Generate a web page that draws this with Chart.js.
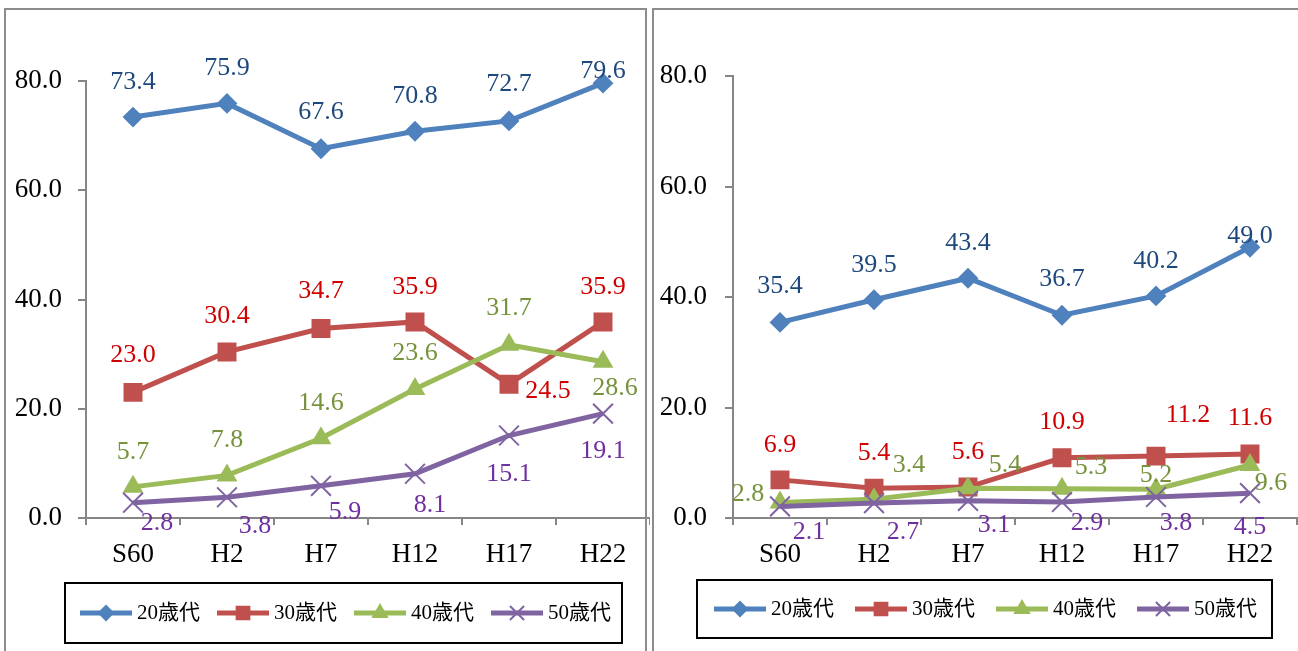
<!DOCTYPE html>
<html>
<head>
<meta charset="utf-8">
<script src="https://cdn.jsdelivr.net/npm/chart.js@4/dist/chart.umd.min.js"></script>
<style>
body { margin: 0; background: #fff; overflow: hidden; }
#page { position: relative; width: 1298px; height: 651px; overflow: hidden; }
canvas { position: absolute; top: 0; }
#c1 { left: 0; }
#c2 { left: 650px; }
.box { position: absolute; border: 2px solid #8c8c8c; box-sizing: border-box; pointer-events: none; }
</style>
</head>
<body>
<div id="page">
  <canvas id="c1" width="650" height="651"></canvas>
  <canvas id="c2" width="648" height="651"></canvas>
  <div class="box" style="left:4px;top:8px;width:643px;height:700px"></div>
  <div class="box" style="left:652px;top:8px;width:660px;height:700px"></div>
</div>
<script>
const categories = ['S60', 'H2', 'H7', 'H12', 'H17', 'H22'];
const seriesNames = ['20歳代', '30歳代', '40歳代', '50歳代'];
const yTickValues = [0, 20, 40, 60, 80];

// left chart
const left20 = [73.4, 75.9, 67.6, 70.8, 72.7, 79.6];
const left30 = [23.0, 30.4, 34.7, 35.9, 24.5, 35.9];
const left40 = [5.7, 7.8, 14.6, 23.6, 31.7, 28.6];
const left50 = [2.8, 3.8, 5.9, 8.1, 15.1, 19.1];

// right chart
const right20 = [35.4, 39.5, 43.4, 36.7, 40.2, 49.0];
const right30 = [6.9, 5.4, 5.6, 10.9, 11.2, 11.6];
const right40 = [2.8, 3.4, 5.4, 5.3, 5.2, 9.6];
const right50 = [2.1, 2.7, 3.1, 2.9, 3.8, 4.5];

const lineColors = ['#4f81bd', '#c0504d', '#9bbb59', '#8064a2'];
const labelColors = ['#1f497d', '#d00000', '#76923c', '#7030a0'];
const pointStyles = ['rectRot', 'rect', 'triangle', 'crossRot'];
const pointSizes = [9, 12, 10, 14];
const legendSizes = [7, 9, 8, 10];

// where each value label sits relative to its point [dx, dy]
const leftLabelPos = [
    [[0, -35], [0, -35], [0, -37], [0, -35], [0, -37], [0, -12]],
    [[0, -37], [0, -36], [0, -37], [0, -35], [39, 7], [0, -35]],
    [[0, -35], [0, -35], [0, -35], [0, -36], [0, -37], [12, 26]],
    [[24, 20], [28, 29], [24, 26], [15, 31], [0, 39], [0, 38]]
];
const rightLabelPos = [
    [[0, -36], [0, -35], [0, -35], [0, -36], [0, -35], [0, -11]],
    [[0, -35], [0, -35], [0, -35], [0, -36], [32, -41], [0, -36]],
    [[-32, -8], [35, -34], [37, -23], [29, -22], [0, -14], [21, 18]],
    [[29, 26], [29, 29], [26, 24], [25, 21], [20, 26], [0, 34]]
];

const serif = '"Liberation Serif", "DejaVu Serif", serif';

const valueLabels = {
    id: 'valueLabels',
    afterDatasetsDraw(chart, args, opts) {
        const ctx = chart.ctx;
        ctx.save();
        ctx.font = '26px ' + serif;
        ctx.textAlign = 'center';
        ctx.textBaseline = 'middle';
        chart.data.datasets.forEach((ds, i) => {
            chart.getDatasetMeta(i).data.forEach((pt, j) => {
                const off = opts.pos[i][j];
                ctx.fillStyle = labelColors[i];
                ctx.fillText(ds.data[j].toFixed(1), pt.x + off[0], pt.y + off[1]);
            });
        });
        ctx.restore();
    }
};

// Excel style legend: framed box, line + marker + text
const boxLegend = {
    id: 'boxLegend',
    afterDraw(chart, args, o) {
        const ctx = chart.ctx;
        ctx.save();
        ctx.strokeStyle = '#000';
        ctx.lineWidth = 2;
        ctx.strokeRect(o.left, o.top, o.width, o.height);
        const cy = o.top + o.height / 2;
        ctx.font = '21px "Liberation Serif", "Noto Sans CJK JP", serif';
        ctx.textBaseline = 'middle';
        ctx.textAlign = 'left';
        chart.data.datasets.forEach((ds, i) => {
            const x0 = o.x0 + i * o.step;
            ctx.strokeStyle = ds.borderColor;
            ctx.lineWidth = 5;
            ctx.beginPath();
            ctx.moveTo(x0, cy);
            ctx.lineTo(x0 + 52, cy);
            ctx.stroke();
            ctx.fillStyle = ds.borderColor;
            ctx.lineWidth = 2;
            Chart.helpers.drawPoint(ctx, { pointStyle: ds.pointStyle, radius: legendSizes[i], borderWidth: 2, rotation: 0 }, x0 + 26, cy);
            ctx.fillStyle = '#000';
            ctx.fillText(ds.label, x0 + 57, cy);
        });
        ctx.restore();
    }
};

function makeChart(id, seriesValues, cfg) {
    const datasets = seriesValues.map((vals, i) => ({
        label: seriesNames[i],
        data: vals,
        borderColor: lineColors[i],
        backgroundColor: lineColors[i],
        borderWidth: 5,
        pointStyle: pointStyles[i],
        pointRadius: pointSizes[i],
        pointBorderWidth: 2,
        pointBackgroundColor: lineColors[i],
        pointBorderColor: lineColors[i],
        tension: 0,
        clip: false,
        order: 3 - i
    }));
    return new Chart(document.getElementById(id), {
        type: 'line',
        data: { labels: categories, datasets: datasets },
        plugins: [valueLabels, boxLegend],
        options: {
            responsive: false,
            animation: false,
            layout: { autoPadding: false, padding: { left: 0, top: cfg.top, right: cfg.right, bottom: 73 } },
            scales: {
                x: {
                    offset: true,
                    grid: { offset: true, drawOnChartArea: false, tickLength: 7, color: '#868686', lineWidth: 2 },
                    border: { color: '#868686', width: 2 },
                    ticks: { color: '#000', font: { family: serif, size: 27 }, padding: 14, maxRotation: 0, autoSkip: false },
                    afterFit(s) { s.height = 60; }
                },
                y: {
                    min: 0,
                    max: 80,
                    afterBuildTicks(s) { s.ticks = yTickValues.map(v => ({ value: v })); },
                    grid: { drawOnChartArea: false, tickLength: 8, color: '#868686', lineWidth: 2 },
                    border: { color: '#868686', width: 2 },
                    ticks: { color: '#000', font: { family: serif, size: 27 }, padding: cfg.tickPad, callback: v => v.toFixed(1) },
                    afterFit(s) { s.width = cfg.yWidth; }
                }
            },
            plugins: {
                legend: { display: false },
                tooltip: { enabled: false },
                valueLabels: { pos: cfg.labelPos },
                boxLegend: cfg.legend
            }
        }
    });
}

makeChart('c1', [left20, left30, left40, left50], {
    top: 81, right: 0, yWidth: 86, tickPad: 16,
    labelPos: leftLabelPos,
    legend: { left: 65, top: 583, width: 557, height: 60, x0: 80, step: 137 }
});

makeChart('c2', [right20, right30, right40, right50], {
    top: 76, right: 1, yWidth: 83, tickPad: 18,
    labelPos: rightLabelPos,
    legend: { left: 47, top: 580, width: 575, height: 58, x0: 64, step: 141 }
});
</script>
</body>
</html>
